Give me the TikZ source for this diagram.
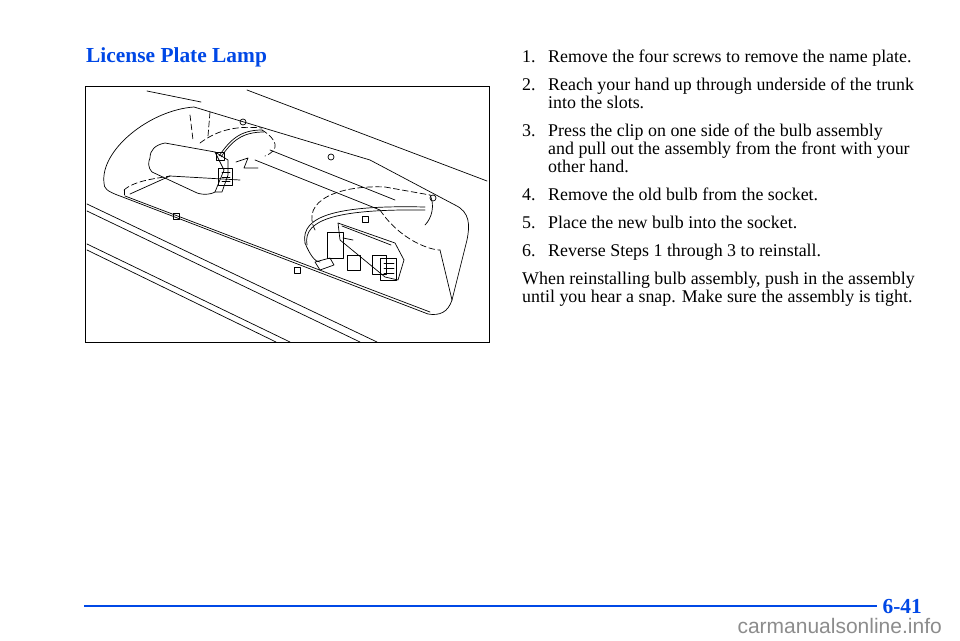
\documentclass[tikz,border=0pt]{standalone}
\usepackage{fontspec}
\setmainfont{Liberation Serif}
\newfontfamily\wmfont{Liberation Sans}
\definecolor{manblue}{RGB}{0,72,230}
\newcommand{\itm}[1]{\makebox[26pt][l]{#1}}
\begin{document}
\begin{tikzpicture}[x=1pt,y=-1pt,
  body/.style={anchor=base west,inner sep=0pt,font=\fontsize{17.9}{20}\selectfont},
  art/.style={line width=0.7pt,line join=round,line cap=round},
  dsh/.style={art,dash pattern=on 6pt off 3pt}]
\useasboundingbox (0,0) rectangle (960,640);
\fill[white] (0,0) rectangle (960,640);
\node[body,font=\fontsize{21.4}{24}\selectfont\bfseries,text=manblue] (title) at (86,62) {License Plate Lamp};
% illustration
\node[draw,line width=1.4pt,minimum width=404pt,minimum height=256pt,inner sep=0pt,anchor=north west] (frame) at (85,86) {};
\begin{scope}
\clip (85,86) rectangle (489,342);
\draw[art] (147,91) -- (201,102);
\draw[art] (247,90) -- (487,181);
% plate outer
\draw[art] (104,183) .. controls (100,150) and (150,110) .. (194,107)
  -- (370,160) -- (455,205) .. controls (470,212) and (470,225) .. (467,240)
  -- (452,300) .. controls (448,312) and (440,316) .. (428,314)
  -- (120,196) .. controls (106,191) and (104,188) .. (104,183);
% inner recess
\draw[dsh] (124,190) -- (124,195);
\draw[art] (125,196) -- (430,312);
\draw[dsh] (124,190) .. controls (135,180) and (160,178) .. (170,176);
\draw[art] (130,194) -- (170,176) -- (240,180);
\draw[art] (255,160) -- (380,210);
\draw[art] (270,150) -- (395,200);
\draw[dsh] (380,210) .. controls (400,240) and (430,250) .. (440,250);
\draw[art] (440,250) -- (452,300);
% lower long lines
\draw[art] (87,204) -- (377,342);
\draw[art] (87,211) -- (360,342);
\draw[art] (87,244) -- (290,342);
\draw[art] (87,250) -- (276,342);
% left lamp
\draw[art] (150,158) .. controls (150,150) and (155,145) .. (165,143) -- (215,152) -- (224,170) -- (215,192)
  .. controls (210,195) and (200,195) .. (195,192) -- (152,172) .. controls (148,168) and (148,162) .. (150,158);
\draw[art] (215,152) -- (228,160) -- (228,175) -- (222,192) -- (215,192);
\draw[art] (218,168) rectangle (232,185);
\draw[art] (222,172) -- (230,172) (222,177) -- (230,177) (222,181) -- (230,181);
\draw[dsh] (200,143) .. controls (220,128) and (240,126) .. (262,128);
\draw[art] (219,156) .. controls (230,140) and (240,130) .. (262,130);
\draw[art] (221,157) .. controls (232,141) and (242,132) .. (264,132);
\draw[art] (216,152) rectangle (224,160);
\draw[dsh] (190,115) -- (193,140) (210,112) -- (208,136);
\draw[dsh] (262,130) .. controls (278,140) and (280,150) .. (265,156);
\draw[art] (236,162) -- (248,158) -- (244,168) -- (258,168);
% screws
\foreach \p in {(243,122),(331,157),(433,198)}
  \draw[art] \p circle (3pt);
% right lamp
\draw[dsh] (315,230) .. controls (300,200) and (340,185) .. (385,187) -- (430,195);
\draw[art] (430,195) .. controls (435,205) and (432,218) .. (425,225);
\draw[art] (305,243) .. controls (300,215) and (340,205) .. (425,207);
\draw[art] (307,245) .. controls (302,218) and (342,209) .. (425,210);
\draw[art] (305,243) .. controls (310,255) and (315,262) .. (320,262);
\draw[art] (338,223) -- (395,243) -- (404,260) -- (398,280) -- (385,277) -- (340,240) -- cycle;
\draw[art] (342,226) -- (391,245);
\draw[art] (327,232) rectangle (343,258);
\draw[art] (343,238) -- (353,240);
\draw[art] (347,255) rectangle (360,270);
\draw[art] (372,255) rectangle (386,274);
\draw[art] (380,258) rectangle (396,280);
\draw[art] (384,263) -- (394,263) (384,268) -- (394,268) (384,273) -- (394,273);
\draw[art] (315,262) -- (330,258) -- (334,265) -- (320,270) -- cycle;
% slots
\foreach \p in {(176,216),(297,270),(365,219)}
  \draw[art] \p ++(-3,-3) rectangle ++(6,6);
\end{scope}
% text
\node[body] (s1) at (522,62) {\itm{1.}Remove the four screws to remove the name plate.};
\node[body] (s2) at (522,90) {\itm{2.}Reach your hand up through underside of the trunk};
\node[body] (s2b) at (548,108) {into the slots.};
\node[body] (s3) at (522,136) {\itm{3.}Press the clip on one side of the bulb assembly};
\node[body] (s3b) at (548,154) {and pull out the assembly from the front with your};
\node[body] (s3c) at (548,172) {other hand.};
\node[body] (s4) at (522,200) {\itm{4.}Remove the old bulb from the socket.};
\node[body] (s5) at (522,228) {\itm{5.}Place the new bulb into the socket.};
\node[body] (s6) at (522,256) {\itm{6.}Reverse Steps 1 through 3 to reinstall.};
\node[body] (p1) at (522,284) {When reinstalling bulb assembly, push in the assembly};
\node[body] (p2) at (522,302) {until you hear a snap. Make sure the assembly is tight.};
% footer
\draw[manblue,line width=2.6pt] (84,606) -- (877,606);
\node[body,font=\fontsize{21.4}{24}\selectfont\bfseries,text=manblue,anchor=base east] (pg) at (922,613) {6-41};
\node[inner sep=0pt,anchor=base east,font=\wmfont\fontsize{21}{24}\selectfont,text=black!45] (wm) at (942,633) {carmanualsonline.info};
\end{tikzpicture}
\end{document}
